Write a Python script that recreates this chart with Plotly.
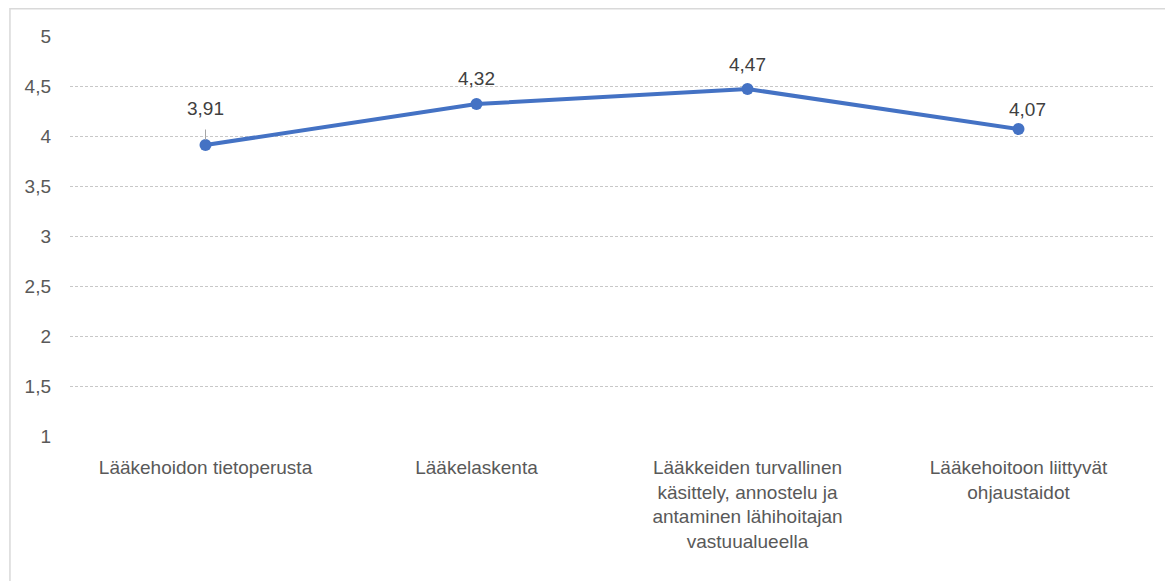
import plotly.graph_objects as go

categories = [
    "Lääkehoidon tietoperusta",
    "Lääkelaskenta",
    "Lääkkeiden turvallinen<br>käsittely, annostelu ja<br>antaminen lähihoitajan<br>vastuualueella",
    "Lääkehoitoon liittyvät<br>ohjaustaidot",
]
scores = [3.91, 4.32, 4.47, 4.07]
score_labels = ["3,91", "4,32", "4,47", "4,07"]
y_ticks = [1, 1.5, 2, 2.5, 3, 3.5, 4, 4.5, 5]
y_tick_labels = ["1", "1,5", "2", "2,5", "3", "3,5", "4", "4,5", "5"]

# label offsets (px) as placed in the original chart
label_shift_x = [0, 0, 0, 9]
label_shift_y = [37, 26, 25, 20]

font = "Liberation Sans Narrow, Arial Narrow, Liberation Sans, Arial, sans-serif"
blue = "#4472C4"
grey = "#595959"

fig = go.Figure()
fig.add_trace(
    go.Scatter(
        x=categories,
        y=scores,
        mode="lines+markers",
        line=dict(color=blue, width=4),
        marker=dict(color=blue, size=12),
        hoverinfo="skip",
    )
)

# data labels
for cat, val, txt, dx, dy in zip(categories, scores, score_labels, label_shift_x, label_shift_y):
    fig.add_annotation(
        x=cat,
        y=val,
        text=txt,
        showarrow=False,
        xshift=dx,
        yshift=dy,
        font=dict(family=font, size=19, color="#404040"),
    )

# short leader line on the first label
fig.add_annotation(
    x=categories[0],
    y=scores[0],
    ax=0,
    ay=-17,
    text="",
    showarrow=True,
    arrowhead=0,
    arrowwidth=1,
    arrowcolor="#a6a6a6",
    standoff=5,
)

# chart border (only top and left edges show in the frame)
fig.add_shape(
    type="rect",
    xref="paper",
    yref="paper",
    x0=-0.0554,
    x1=1.03,
    y0=-0.4,
    y1=1.068,
    line=dict(color="#d9d9d9", width=1.5),
    fillcolor="rgba(0,0,0,0)",
    layer="below",
)

# page body has an 8px margin, so the figure is sized to fill the rest
fig.update_layout(
    width=1165,
    height=573,
    margin=dict(l=62, r=19, t=28, b=145),
    paper_bgcolor="white",
    plot_bgcolor="white",
    showlegend=False,
    font=dict(family=font, size=16, color=grey),
)
fig.update_xaxes(
    range=[-0.5, 3.5],
    showgrid=False,
    showline=False,
    zeroline=False,
    ticks="",
    tickfont=dict(family=font, size=19, color=grey),
    tickangle=0,
    ticklabelstandoff=18,
)
fig.update_yaxes(
    range=[1, 5],
    tickvals=y_ticks,
    ticktext=y_tick_labels,
    showgrid=True,
    gridcolor="#c8c8c8",
    griddash="3px,2px",
    gridwidth=1,
    zeroline=False,
    showline=False,
    ticks="",
    ticklabelstandoff=18,
    tickfont=dict(family=font, size=19, color=grey),
)

fig.write_html("out.html")
